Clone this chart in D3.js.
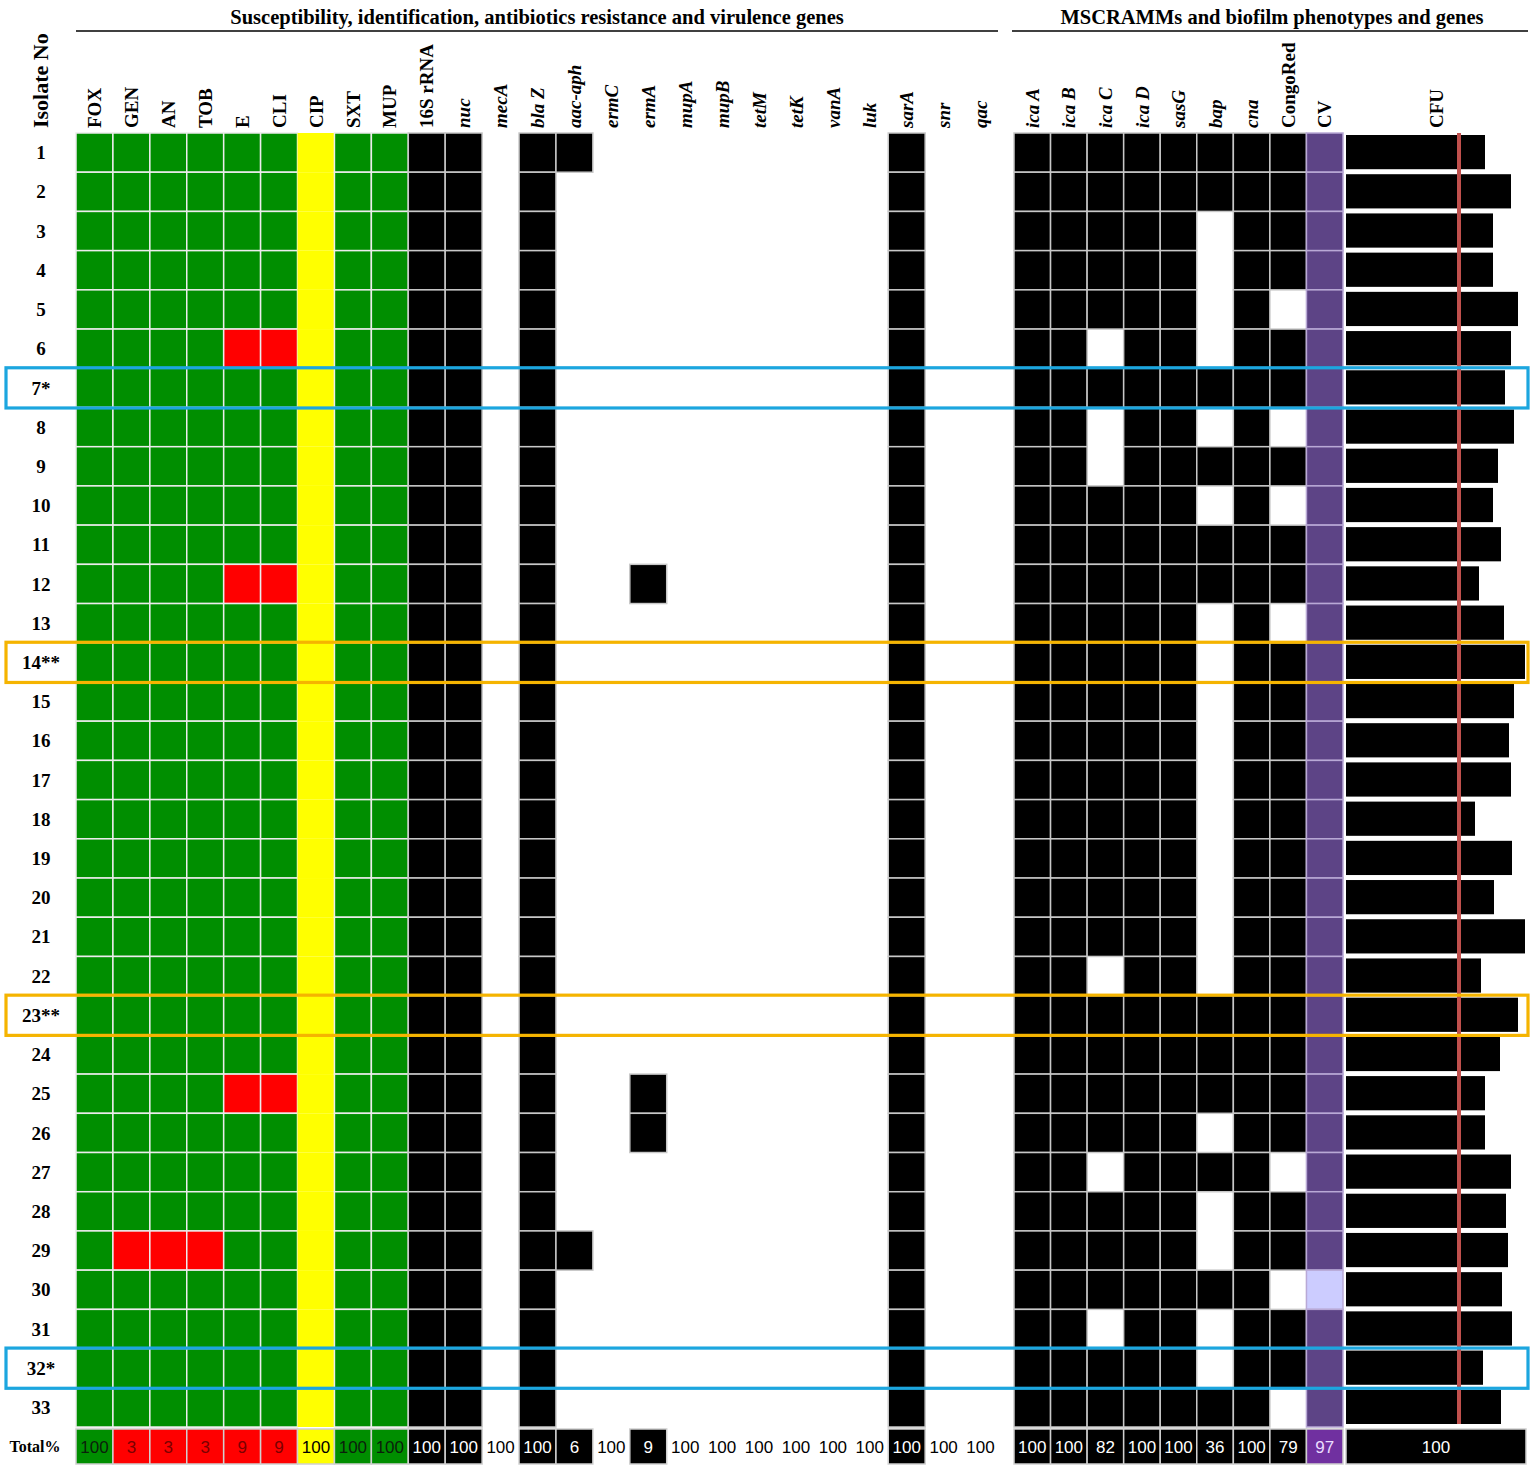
<!DOCTYPE html>
<html><head><meta charset="utf-8">
<script src="https://cdn.jsdelivr.net/npm/d3@7"></script>
<style>body{margin:0;background:#fff} svg{display:block}</style>
</head><body><svg id="c" width="1535" height="1472"></svg>
<script>
// ---------------- DATA ----------------
const isolates = ["1","2","3","4","5","6","7*","8","9","10","11","12","13","14**","15","16","17","18","19","20","21","22","23**","24","25","26","27","28","29","30","31","32*","33"];

const antibiotics = ["FOX","GEN","AN","TOB","E","CLI","CIP","SXT","MUP"];
// isolate numbers resistant (red) per antibiotic
const abResistant = [[],[29],[29],[29],[6,12,25],[6,12,25],[],[],[]];
// antibiotics with intermediate (yellow) result for every isolate
const abIntermediate = ["CIP"];

const geneNames = ["16S rRNA","nuc","mecA","bla Z","aac-aph","ermC","ermA","mupA","mupB","tetM","tetK","vanA","luk","sarA","snr","qac"];
// isolate numbers positive per gene ("all" = every isolate)
const genePositive = ["all","all",[],"all",[1,29],[],[12,25,26],[],[],[],[],[],[],"all",[],[]];

const mscrammNames = ["ica A","ica B","ica C","ica D","sasG","bap","cna","CongoRed","CV"];
// isolate numbers negative per MSCRAMM / biofilm column
const mscrammNegative = [[],[],[6,8,9,22,27,31],[],[],[3,4,5,6,8,10,13,14,15,16,17,18,19,20,21,22,26,28,29,31,32],[],[5,8,10,13,27,30,33],[30]];

// CFU (log10) per isolate and cut-off line
const cfuValues = [6.95,8.25,7.35,7.35,8.6,8.25,7.95,8.4,7.6,7.35,7.75,6.65,7.9,8.95,8.4,8.15,8.25,6.45,8.3,7.4,8.95,6.75,8.6,7.7,6.95,6.95,8.25,8.0,8.1,7.8,8.3,6.85,7.75];
const cfuCutoff = 5.65;

const totalsLeft = [100,3,3,3,9,9,100,100,100,100,100,100,100,6,100,9,100,100,100,100,100,100,100,100,100];
const totalsRight = [100,100,82,100,100,36,100,79,97];
const totalCFU = 100;

const highlightBlue = ["7*","32*"];
const highlightGold = ["14**","23**"];
const groupTitles = ["Susceptibility, identification, antibiotics resistance and virulence genes","MSCRAMMs and biofilm phenotypes and genes"];
const italicHeaders = ["nuc","mecA","bla Z","aac-aph","ermC","ermA","mupA","mupB","tetM","tetK","vanA","luk","sarA","snr","qac","ica A","ica B","ica C","ica D","sasG","bap","cna"];

// ---------------- STYLE ----------------
const GREEN="#008e00", RED="#ff0000", YELLOW="#ffff00", BLACK="#000000", PURPLE="#5d4486", LAVENDER="#ccccff", TOTPURPLE="#7030a0";
const SERIF="'Liberation Serif','Times New Roman',serif";
const NARROW="'Liberation Sans Narrow','Arial Narrow','Liberation Sans',sans-serif";

const svg = d3.select("#c");
const leftCols = antibiotics.concat(geneNames);
const xL = d3.scaleBand().domain(leftCols).range([76, 999]);
const xR = d3.scaleBand().domain(mscrammNames).range([1014, 1343]);
const xC = d3.scaleLinear().domain([0, 9]).range([1346, 1526]);
const y = d3.scaleBand().domain(isolates).range([133, 1427]);
const totalY = 1429, totalH = 35;

const nums = isolates.map((d,i)=>i+1);
const posList = p => p === "all" ? nums : p;

// ---------------- CELLS ----------------
const cells = [];
antibiotics.forEach((ab,i)=>{
  isolates.forEach((iso,j)=>{
    let fill = GREEN, stroke = "#ececec";
    if (abIntermediate.includes(ab)) { fill = YELLOW; stroke = "none"; }
    else if (abResistant[i].includes(j+1)) fill = RED;
    cells.push({x:xL(ab), w:xL.bandwidth(), iso, fill, stroke});
  });
});
geneNames.forEach((g,i)=>{
  const pos = posList(genePositive[i]);
  isolates.forEach((iso,j)=>{
    if (pos.includes(j+1)) cells.push({x:xL(g), w:xL.bandwidth(), iso, fill:BLACK, stroke:"#c8c8c8"});
  });
});
mscrammNames.forEach((m,i)=>{
  isolates.forEach((iso,j)=>{
    const neg = mscrammNegative[i].includes(j+1);
    if (m === "CV") {
      cells.push({x:xR(m), w:xR.bandwidth(), iso, fill: neg?LAVENDER:PURPLE, stroke:"#b9a9d6"});
    } else if (!neg) {
      cells.push({x:xR(m), w:xR.bandwidth(), iso, fill:BLACK, stroke:"#c8c8c8"});
    }
  });
});

svg.append("g").selectAll("rect").data(cells).join("rect")
  .attr("x", d=>d.x).attr("y", d=>y(d.iso))
  .attr("width", d=>d.w).attr("height", y.bandwidth())
  .attr("fill", d=>d.fill).attr("stroke", d=>d.stroke).attr("stroke-width", 1.5);

// ---------------- CFU BARS ----------------
svg.append("g").selectAll("rect").data(cfuValues).join("rect")
  .attr("x", xC(0)).attr("y", (d,i)=>y(isolates[i])+2)
  .attr("width", d=>xC(d)-xC(0)).attr("height", y.bandwidth()-5)
  .attr("fill", BLACK);
svg.append("line")
  .attr("x1", xC(cfuCutoff)).attr("x2", xC(cfuCutoff))
  .attr("y1", y(isolates[0])).attr("y2", y(isolates[isolates.length-1])+y.bandwidth()-3)
  .attr("stroke", "#c0504d").attr("stroke-width", 4);

// ---------------- TOTAL ROW ----------------
const totals = [];
antibiotics.forEach((ab,i)=>{
  let bg = GREEN, fg = "#0b1f0b";
  if (abIntermediate.includes(ab)) { bg = YELLOW; fg = "#000"; }
  else if (abResistant[i].length) { bg = RED; fg = "#7a0000"; }
  totals.push({x:xL(ab), w:xL.bandwidth(), v:totalsLeft[i], bg, fg});
});
geneNames.forEach((g,i)=>{
  const has = posList(genePositive[i]).length > 0;
  totals.push({x:xL(g), w:xL.bandwidth(), v:totalsLeft[antibiotics.length+i], bg: has?BLACK:"none", fg: has?"#fff":"#000"});
});
mscrammNames.forEach((m,i)=>{
  totals.push({x:xR(m), w:xR.bandwidth(), v:totalsRight[i], bg: m==="CV"?TOTPURPLE:BLACK, fg: m==="CV"?"#eadcff":"#fff"});
});
totals.push({x:xC(0), w:xC(9)-xC(0), v:totalCFU, bg:BLACK, fg:"#fff"});

const tg = svg.append("g");
tg.selectAll("rect").data(totals.filter(d=>d.bg!=="none")).join("rect")
  .attr("x", d=>d.x).attr("y", totalY).attr("width", d=>d.w).attr("height", totalH)
  .attr("fill", d=>d.bg).attr("stroke", "#d0d0d0").attr("stroke-width", 1.5);
tg.selectAll("text").data(totals).join("text")
  .attr("x", d=>d.x+d.w/2).attr("y", totalY+totalH/2).attr("dy","0.36em")
  .attr("text-anchor","middle").attr("fill", d=>d.fg)
  .style("font-family", NARROW).style("font-size","17px")
  .text(d=>d.v);
svg.append("text").attr("x", 35).attr("y", totalY+totalH/2).attr("dy","0.35em")
  .attr("text-anchor","middle").style("font-family",SERIF).style("font-weight","bold").style("font-size","16px")
  .text("Total%");

// ---------------- ROW LABELS ----------------
svg.append("g").selectAll("text").data(isolates).join("text")
  .attr("x", 41).attr("y", d=>y(d)+y.bandwidth()/2).attr("dy","0.35em")
  .attr("text-anchor","middle").style("font-family",SERIF).style("font-weight","bold").style("font-size","19px")
  .text(d=>d);

// ---------------- COLUMN HEADERS ----------------
const headers = leftCols.map(c=>({t:c, cx:xL(c)+xL.bandwidth()/2}))
  .concat(mscrammNames.map(c=>({t:c, cx:xR(c)+xR.bandwidth()/2})))
  .concat([{t:"CFU", cx:(xC(0)+xC(9))/2}]);
svg.append("g").selectAll("text").data(headers).join("text")
  .attr("transform", d=>`translate(${d.cx},128) rotate(-90)`)
  .attr("dy","0.35em")
  .style("font-family",SERIF).style("font-weight","bold").style("font-size","19px")
  .style("font-style", d=>italicHeaders.includes(d.t)?"italic":"normal")
  .text(d=>d.t);
svg.append("text").attr("transform","translate(40,128) rotate(-90)").attr("dy","0.35em")
  .style("font-family",SERIF).style("font-weight","bold").style("font-size","22px")
  .text("Isolate No");

// ---------------- GROUP TITLES ----------------
const groups = [
  {t:groupTitles[0], x0:76, x1:998},
  {t:groupTitles[1], x0:1012, x1:1528}
];
const gg = svg.append("g");
gg.selectAll("line").data(groups).join("line")
  .attr("x1", d=>d.x0).attr("x2", d=>d.x1).attr("y1",31).attr("y2",31)
  .attr("stroke","#000").attr("stroke-width",1.6);
gg.selectAll("text").data(groups).join("text")
  .attr("x", d=>(d.x0+d.x1)/2+(d.x0>1000?2:0)).attr("y",24).attr("text-anchor","middle")
  .style("font-family",SERIF).style("font-weight","bold").style("font-size","20.5px")
  .text(d=>d.t);

// ---------------- HIGHLIGHT BOXES ----------------
const boxes = highlightBlue.map(d=>({iso:d, c:"#1ca6df"})).concat(highlightGold.map(d=>({iso:d, c:"#f5b400"})));
svg.append("g").selectAll("rect").data(boxes).join("rect")
  .attr("x", 6).attr("width", 1522)
  .attr("y", d=>y(d.iso)-0.5).attr("height", y.bandwidth()+1)
  .attr("fill","none").attr("stroke", d=>d.c).attr("stroke-width", 3.2);
</script></body></html>
